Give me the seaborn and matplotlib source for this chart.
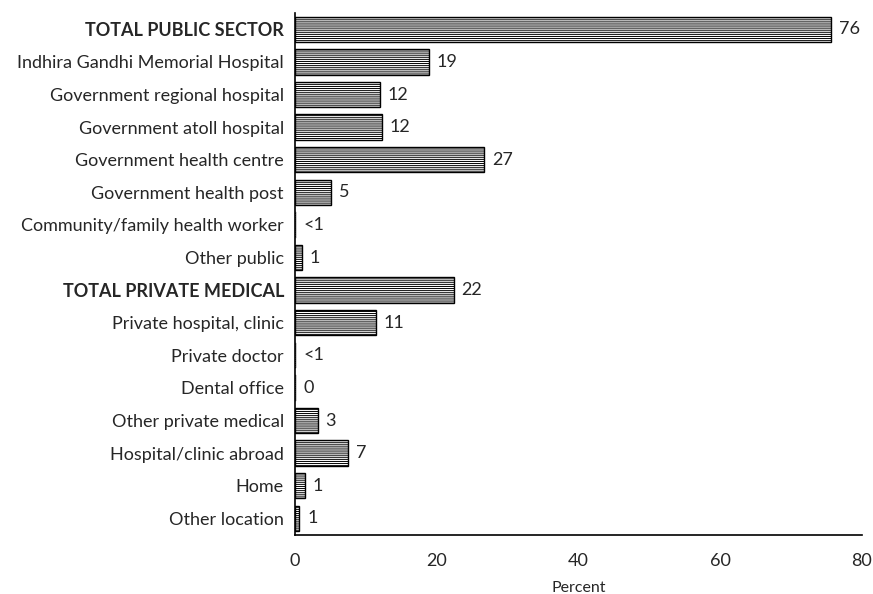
import matplotlib
matplotlib.use("Agg")
import matplotlib.pyplot as plt
import seaborn as sns
import pandas as pd

categories = ["TOTAL PUBLIC SECTOR", "Indhira Gandhi Memorial Hospital", "Government regional hospital",
              "Government atoll hospital", "Government health centre", "Government health post",
              "Community/family health worker", "Other public", "TOTAL PRIVATE MEDICAL",
              "Private hospital, clinic", "Private doctor", "Dental office", "Other private medical",
              "Hospital/clinic abroad", "Home", "Other location"]
values = [75.7, 18.9, 12.0, 12.3, 26.7, 5.1, 0.1, 1.0, 22.4, 11.4, 0.1, 0.1, 3.2, 7.5, 1.4, 0.6]
value_labels = ["76", "19", "12", "12", "27", "5", "<1", "1", "22", "11", "<1", "0", "3", "7", "1", "1"]
bold_rows = ["TOTAL PUBLIC SECTOR", "TOTAL PRIVATE MEDICAL"]
x_ticks = [0, 20, 40, 60, 80]

df = pd.DataFrame({"category": categories, "value": values})

sns.set_theme(style="white")
plt.rcParams["font.family"] = ["Lato", "DejaVu Sans"]
plt.rcParams["hatch.linewidth"] = 0.7
plt.rcParams["hatch.color"] = "#555555"

fig, ax = plt.subplots(figsize=(8.73, 5.94), dpi=100)
fig.subplots_adjust(left=0.338, right=0.987, top=0.978, bottom=0.1)

FS = 13

sns.barplot(data=df, x="value", y="category", order=categories, color="white",
            edgecolor="black", linewidth=1.0, width=0.78, ax=ax, orient="h")
for p in ax.patches:
    p.set_hatch("--------")
    if p.get_width() < 0.3:
        p.set_linewidth(0.3)

for i, (v, lab) in enumerate(zip(values, value_labels)):
    ax.text(v + 1.1, i, lab, va="center", ha="left", fontsize=FS)

ax.set_xlim(0, 80)
ax.set_xticks(x_ticks)
ax.set_xticklabels([str(t) for t in x_ticks], fontsize=FS)
ax.set_xlabel("Percent", fontsize=11.5, labelpad=9)
ax.set_ylabel("")
ax.tick_params(axis="y", labelsize=FS, length=0, pad=8)
ax.tick_params(axis="x", length=0, pad=13)
for lab in ax.get_yticklabels():
    if lab.get_text() in bold_rows:
        lab.set_fontweight("bold")
sns.despine(ax=ax, top=True, right=True)
for s in ["left", "bottom"]:
    ax.spines[s].set_color("black")
    ax.spines[s].set_linewidth(1.2)

fig.savefig("out.png", dpi=100)
